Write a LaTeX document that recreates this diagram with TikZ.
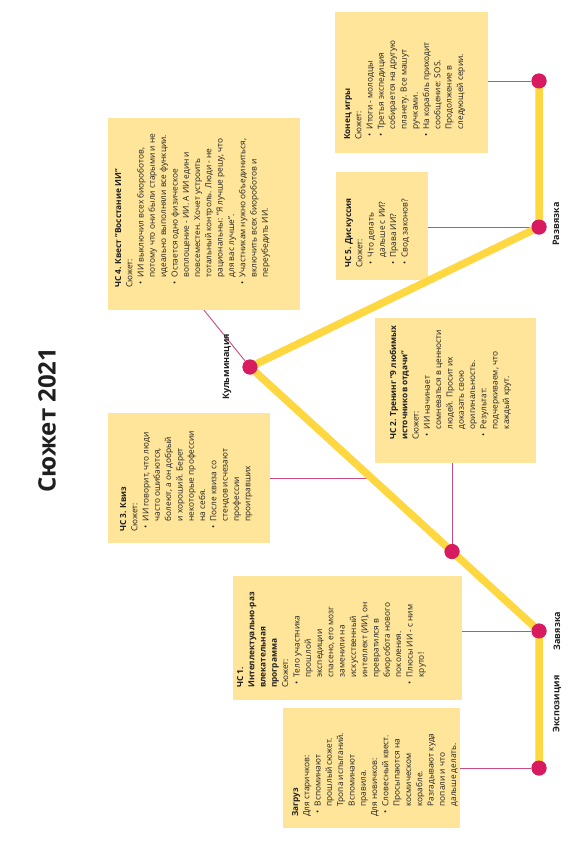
\documentclass[tikz,border=0pt]{standalone}
\usepackage{fontspec}
\setmainfont{Open Sans}
\usepackage{enumitem}
\usetikzlibrary{fit,calc}
\definecolor{lineY}{HTML}{FFD740}
\definecolor{dotP}{HTML}{D81B60}
\definecolor{connP}{HTML}{C94C84}
\definecolor{cardY}{HTML}{FFE599}
\definecolor{ink}{HTML}{1F1F1F}
\setlist[itemize]{label=\textbullet,leftmargin=10.5pt,labelsep=4pt,itemsep=0pt,topsep=0pt,parsep=0pt,partopsep=0pt}
\newcommand{\cardtext}[2]{\begin{minipage}[t]{#1}\fontsize{8.3}{11.3}\selectfont\raggedright #2\end{minipage}}
\begin{document}
\begin{tikzpicture}[x=1pt,y=-1pt,
  card/.style={fill=cardY,draw=none,inner sep=0pt},
  cardtxt/.style={rotate=90,anchor=base west,inner sep=0pt,text=ink},
  stage/.style={rotate=90,font=\bfseries\fontsize{9}{10}\selectfont,text=ink,inner sep=0pt},
  dot/.style={circle,fill=dotP,minimum size=15pt,inner sep=0pt},
  conn/.style={draw=connP,line width=0.9pt},
  plotline/.style={draw=lineY,line width=7.5pt,line join=round}]
\useasboundingbox (0,0) rectangle (584,847);
\fill[white] (0,0) rectangle (584,847);
% cards
\node[card,fit={(283,708) (460,828)}] (b0) {};
\node[card,fit={(233,576) (462,700)}] (b1) {};
\node[card,fit={(108,413) (270,543)}] (b3) {};
\node[card,fit={(108,118) (300,310)}] (b4) {};
\node[card,fit={(375,318) (536,463)}] (b2) {};
\node[card,fit={(336,172) (428,280)}] (b5) {};
\node[card,fit={(335,12) (488,153)}] (b6) {};
% plot points
\coordinate (pE) at (539,768);
\coordinate (pZ) at (539,631);
\coordinate (pK) at (250,367);
\coordinate (pR) at (539,227);
\coordinate (pF) at (539,81);
\coordinate (c3) at ($(pZ)!0.5795!(pK)$);
% dots as nodes
\node[dot] (eks) at (pE) {};
\node[dot] (zav) at (pZ) {};
\node[dot] (kul) at (pK) {};
\node[dot] (raz) at (pR) {};
\node[dot] (kon) at (pF) {};
\node[dot] (d2) at ($(pZ)!0.301!(pK)$) {};
% connectors
\draw[conn] (b0.east |- eks) -- (eks);
\draw[conn] (b1.east |- zav) -- (zav);
\draw[conn] (b3.east |- c3) -- (c3);
\draw[conn] (b2.south -| d2) -- (d2);
\draw[conn] (b4.south) -- (kul);
\draw[conn] (b5.east |- raz) -- (raz);
\draw[conn] (b6.east |- kon) -- (kon);
% main plot line
\draw[plotline] (pE) -- (pZ) -- (pK) -- (pR) -- (pF);
\foreach \n in {eks,zav,kul,raz,kon,d2}{\fill[dotP] (\n) circle (7.5pt);}
% stage labels
\node[stage] (lE) at (557,704) {Экспозиция};
\node[stage] (lZ) at (557,631) {Завязка};
\node[stage] (lR) at (556,224) {Развязка};
\node[stage] (lK) at (227,367) {Кульминация};
% title
\node[rotate=90,font=\bfseries\fontsize{24}{28}\selectfont,text=ink] (title) at (47,420) {Сюжет 2021};
% card texts
\node[cardtxt] (t0) at (298,817) {\cardtext{112pt}{\textbf{Загруз}\\ Для старичков:
\begin{itemize}\item Вспоминают\\ прошлый сюжет.\\ Тропа испытаний.\\ Вспоминают\\ правила.\end{itemize}
Для новичков:
\begin{itemize}\item Словесный квест.\\ Просыпаются на\\ космическом\\ корабле.\\ Разгадывают куда\\ попали и что\\ дальше делать.\end{itemize}}};
\node[cardtxt] (t1) at (243,688) {\cardtext{120pt}{\textbf{ЧС 1.\\ Интеллектуально-раз\\ влекательная\\ программа}\\ Сюжет:
\begin{itemize}\item Тело участника\\ прошлой\\ экспедиции\\ спасено, его мозг\\ заменили на\\ искусственный\\ интеллект (ИИ), он\\ превратился в\\ биоробота нового\\ поколения.
\item Плюсы ИИ - с ним\\ круто!\end{itemize}}};
\node[cardtxt] (t3) at (126,532) {\cardtext{120pt}{\textbf{ЧС 3. Квиз}\\ Сюжет:
\begin{itemize}\item ИИ говорит, что люди\\ часто ошибаются,\\ болеют, а он добрый\\ и хороший. Берет\\ некоторые профессии\\ на себя.
\item После квиза со\\ стендов исчезают\\ профессии\\ проигравших\end{itemize}}};
\node[cardtxt] (t4) at (121,288) {\cardtext{175pt}{\textbf{ЧС 4. Квест "Восстание ИИ"}\\ Сюжет:
\begin{itemize}\item ИИ выключил всех биороботов,\\ потому что они были старыми и не\\ идеально выполняли все функции.
\item Остается одно физическое\\ воплощение - ИИ. А ИИ един и\\ повсеместен. Хочет устроить\\ тотальный контроль. Люди - не\\ рациональны: "Я лучше решу, что\\ для вас лучше".
\item Участникам нужно объединиться,\\ включить всех биороботов и\\ переубедить ИИ.\end{itemize}}};
\node[cardtxt] (t2) at (396,440) {\cardtext{130pt}{\textbf{ЧС 2. Тренинг "9 любимых\\ источников отдачи"}\\ Сюжет:
\begin{itemize}\item ИИ начинает\\ сомневаться в ценности\\ людей. Просит их\\ доказать свою\\ оригинальность.
\item Результат:\\ подчеркиваем, что\\ каждый крут.\end{itemize}}};
\node[cardtxt] (t5) at (351,268) {\cardtext{95pt}{\textbf{ЧС 5. Дискуссия}\\ Сюжет:
\begin{itemize}\item Что делать\\ дальше с ИИ?\item Права ИИ?\item Свод законов?\end{itemize}}};
\node[cardtxt] (t6) at (350,140) {\cardtext{130pt}{\textbf{Конец игры}\\ Сюжет:
\begin{itemize}\item Итоги - молодцы\item Третья экспедиция\\ собирается на другую\\ планету. Все машут\\ ручками.\item На корабль приходит\\ сообщение: SOS.\\ Продолжение в\\ следующей серии.\end{itemize}}};
\end{tikzpicture}
\end{document}
